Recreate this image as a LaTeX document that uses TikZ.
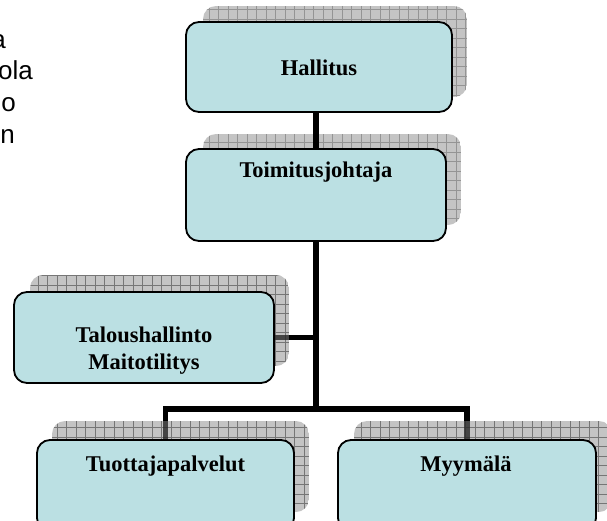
\documentclass[tikz,border=0pt]{standalone}
\usepackage{fontspec}
\setmainfont{Liberation Serif}
\newfontfamily\sansf{Liberation Sans}
\definecolor{boxfill}{RGB}{187,224,227}
\definecolor{shfill}{RGB}{196,196,196}
\definecolor{shgrid}{RGB}{148,148,148}
\definecolor{shfillT}{RGB}{138,138,138}
\definecolor{shgridT}{RGB}{41,41,41}
\pgfdeclarelayer{lA}
\pgfdeclarelayer{lB}
\pgfdeclarelayer{lC}
\pgfsetlayers{lA,lB,lC,main}
% #1..#4 corners, #5 opacity, #6 fill colour, #7 grid colour
\newcommand\shbox[7]{%
  \begin{scope}
    \clip (0,0) rectangle (607,520);
    \clip[rounded corners=13pt] (#1,#2) rectangle (#3,#4);
    \fill[#6, fill opacity=#5] (#1,#2) rectangle (#3,#4);
    \draw[#7, line width=0.7pt, step=9.5pt, draw opacity=#5] (#1,#2) grid (#3,#4);
  \end{scope}}
\begin{document}
\begin{tikzpicture}[x=1pt,y=-1pt,
  orgbox/.style={draw, line width=1.8pt, rounded corners=13pt, fill=boxfill,
    minimum width=260pt, minimum height=91pt, inner sep=0pt},
  conn/.style={line width=5.5pt},
  lbl/.style={font=\bfseries\fontsize{22.5}{27}\selectfont, inner sep=0pt, anchor=base},
  frag/.style={font=\sansf\fontsize{26}{30}\selectfont, inner sep=0pt, anchor=base east}]
\useasboundingbox (0,0) rectangle (607,520);
\begin{scope}
  \clip (0,0) rectangle (607,520);
  % boxes
  \node[orgbox, minimum width=266pt, minimum height=90pt] (hall) at (319,67) {};
  \node[orgbox, minimum height=92pt] (toim) at (316,195) {};
  \node[orgbox] (tal) at (144,337.5) {};
  \node[orgbox, minimum width=257pt] (tuot) at (165.5,485.5) {};
  \node[orgbox, minimum width=258pt] (myy) at (467,485.5) {};
  \coordinate (bus) at (316,409);
  % texts
  \node[lbl] (thall) at (319,75) {Hallitus};
  \node[lbl] (ttoim) at (316,177) {Toimitusjohtaja};
  \node[lbl] (ttal1) at (144,342) {Taloushallinto};
  \node[lbl] (ttal2) at (144,369) {Maitotilitys};
  \node[lbl] (ttuot) at (165.5,471) {Tuottajapalvelut};
  \node[lbl] (tmyy) at (466,471) {Myymälä};
  % cut-off text at the left edge
  \node[frag] (f1) at (6,48) {a};
  \node[frag] (f2) at (33,79) {ola};
  \node[frag] (f3) at (16,111) {o};
  \node[frag] (f4) at (15,143) {n};
\end{scope}
% connectors under the lower shadows
\begin{pgfonlayer}{lA}
  \draw[conn] (tal.east) -- (tal.east -| toim.south);
  \draw[conn] (toim.south) -- (bus);
  \draw[conn] (tuot.north) |- (bus) -| (myy.north);
\end{pgfonlayer}
% semi-transparent shadows
\begin{pgfonlayer}{lB}
  \shbox{30}{275}{289}{366}{0.5}{shfillT}{shgridT}
  \shbox{52}{421}{309}{512}{0.5}{shfillT}{shgridT}
  \shbox{354}{421}{612}{512}{0.5}{shfillT}{shgridT}
\end{pgfonlayer}
% upper shadows and top connector
\begin{pgfonlayer}{lC}
  \shbox{203}{6}{467}{97}{1}{shfill}{shgrid}
  \shbox{203}{134}{461}{225}{1}{shfill}{shgrid}
  \draw[conn] (hall.south -| toim.north) -- (toim.north);
\end{pgfonlayer}
\end{tikzpicture}
\end{document}
